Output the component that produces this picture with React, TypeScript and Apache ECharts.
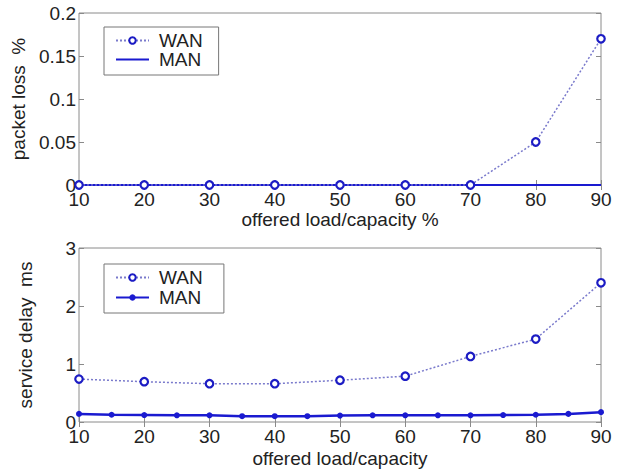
import React, { useEffect, useRef } from "react";
import * as echarts from "echarts";

const loads = [10, 20, 30, 40, 50, 60, 70, 80, 90];
const manLoads = [10, 15, 20, 25, 30, 35, 40, 45, 50, 55, 60, 65, 70, 75, 80, 85, 90];
const lossWan = [0, 0, 0, 0, 0, 0, 0, 0.05, 0.17];
const lossMan = [0, 0, 0, 0, 0, 0, 0, 0, 0];
const delayWan = [0.74, 0.695, 0.66, 0.66, 0.72, 0.79, 1.13, 1.43, 2.4];
const delayMan = [0.14, 0.125, 0.12, 0.115, 0.115, 0.1, 0.1, 0.1, 0.11, 0.115, 0.115, 0.115, 0.115, 0.12, 0.125, 0.14, 0.17];
const lossTicks = { min: 0, max: 0.2, interval: 0.05 };
const delayTicks = { min: 0, max: 3, interval: 1 };
const loadTicks = { min: 10, max: 90, interval: 10 };

const FONT = "Liberation Sans, Arial, sans-serif";
const FRAME = "#8a8a8a";
const WAN_LINE = "#7a7acc";
const WAN_MARK = "#1c1cc4";
const MAN_COLOR = "#1a1ad0";

function pairs(xs: number[], ys: number[]) {
  return xs.map((x, i) => [x, ys[i]]);
}

export default function App() {
  const ref = useRef<HTMLDivElement>(null);
  useEffect(() => {
    if (!ref.current) return;
    const chart = echarts.init(ref.current, undefined, { renderer: "svg" });
    const tick = { show: true, inside: true, length: 5, lineStyle: { color: FRAME } };
    const label = { fontSize: 19, color: "#222", fontFamily: FONT };
    const nameStyle = { fontSize: 19, color: "#222", fontFamily: FONT };
    const xMain = (gridIndex: number, name: string, gap: number) => ({
      type: "value", gridIndex, position: "bottom", ...loadTicks,
      axisLine: { show: false }, axisTick: tick, splitLine: { show: false },
      axisLabel: { ...label, margin: 5 },
      name, nameLocation: "middle", nameGap: gap, nameTextStyle: nameStyle,
    });
    const xMirror = (gridIndex: number) => ({
      type: "value", gridIndex, position: "top", ...loadTicks,
      axisLine: { show: false }, axisTick: tick, splitLine: { show: false },
      axisLabel: { show: false },
    });
    const yMain = (gridIndex: number, t: any, name: string) => ({
      type: "value", gridIndex, position: "left", ...t,
      axisLine: { show: false }, axisTick: tick, splitLine: { show: false },
      axisLabel: { ...label, margin: 3 },
      name, nameLocation: "middle", nameGap: 44, nameTextStyle: nameStyle,
    });
    const yMirror = (gridIndex: number, t: any) => ({
      type: "value", gridIndex, position: "right", ...t,
      axisLine: { show: false }, axisTick: tick, splitLine: { show: false },
      axisLabel: { show: false },
    });
    const wanStyle = {
      type: "line", name: "WAN", symbol: "circle", symbolSize: 7.5,
      lineStyle: { color: WAN_LINE, width: 1.5, type: [2, 2] },
      itemStyle: { color: "#ffffff", borderColor: WAN_MARK, borderWidth: 2.2 },
      z: 3,
    };
    const legendBase = {
      left: 104, orient: "vertical", itemGap: 0, itemWidth: 33, itemHeight: 8,
      padding: [4, 16, 6, 11], borderColor: "#777", borderWidth: 1,
      textStyle: { fontSize: 19, lineHeight: 18, color: "#222", fontFamily: FONT, padding: [0, 0, 0, 5] },
    };
    chart.setOption({
      animation: false,
      backgroundColor: "#ffffff",
      grid: [
        { left: 79, top: 13, width: 522, height: 172, show: true, borderColor: FRAME, borderWidth: 1 },
        { left: 79, top: 248, width: 522, height: 174, show: true, borderColor: FRAME, borderWidth: 1 },
      ],
      xAxis: [
        xMain(0, "offered load/capacity %", 20),
        xMirror(0),
        xMain(1, "offered load/capacity", 27),
        xMirror(1),
      ],
      yAxis: [
        yMain(0, lossTicks, "packet loss  %"),
        yMirror(0, lossTicks),
        yMain(1, delayTicks, "service delay  ms"),
        yMirror(1, delayTicks),
      ],
      legend: [
        {
          ...legendBase, top: 27,
          data: [{ name: "WAN" }, { name: "MAN", itemStyle: { opacity: 0 } }],
        },
        {
          ...legendBase, top: 264, itemGap: 1,
          data: [{ name: "WAN " }, { name: "MAN " }],
        },
      ],
      series: [
        {
          ...wanStyle, name: "WAN", xAxisIndex: 0, yAxisIndex: 0,
          data: pairs(loads, lossWan),
        },
        {
          type: "line", name: "MAN", xAxisIndex: 0, yAxisIndex: 0, symbol: "none",
          lineStyle: { color: MAN_COLOR, width: 2 }, itemStyle: { color: MAN_COLOR }, z: 2,
          data: pairs(loads, lossMan),
        },
        {
          ...wanStyle, name: "WAN ", xAxisIndex: 2, yAxisIndex: 2,
          data: pairs(loads, delayWan),
        },
        {
          type: "line", name: "MAN ", xAxisIndex: 2, yAxisIndex: 2, symbol: "circle", symbolSize: 6,
          lineStyle: { color: MAN_COLOR, width: 2.5 }, itemStyle: { color: MAN_COLOR }, z: 2,
          data: pairs(manLoads, delayMan),
        },
      ],
    });
    return () => chart.dispose();
  }, []);
  return <div ref={ref} style={{ width: 623, height: 469, position: "absolute", left: 0, top: 0 }} />;
}
